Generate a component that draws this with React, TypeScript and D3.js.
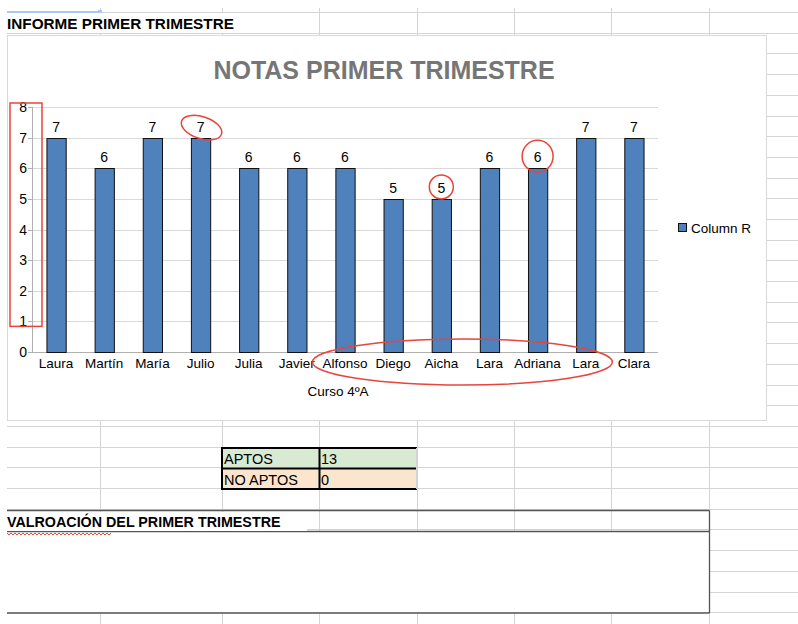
import React from "react";
import * as d3 from "d3";

const categories = ["Laura", "Martín", "María", "Julio", "Julia", "Javier", "Alfonso", "Diego", "Aicha", "Lara", "Adriana", "Lara", "Clara"];
const values = [7, 6, 7, 7, 6, 6, 6, 5, 5, 6, 6, 7, 7];
const yTicks = [0, 1, 2, 3, 4, 5, 6, 7, 8];
const seriesName = "Column R";
const chartTitle = "NOTAS PRIMER TRIMESTRE";
const xTitle = "Curso 4ºA";
const sheetTitle = "INFORME PRIMER TRIMESTRE";
const summaryLabels = ["APTOS", "NO APTOS"];
const summaryValues = [13, 0];
const sectionTitle = "VALROACIÓN DEL PRIMER TRIMESTRE";

const W = 798;
const H = 624;
const FONT = "'Liberation Sans', Arial, sans-serif";

export default function App() {
  const plot = { left: 32, right: 658, top: 107, bottom: 352 };
  const x = d3
    .scaleBand<number>()
    .domain(categories.map((_, i) => i))
    .range([plot.left, plot.right])
    .paddingInner(0.6)
    .paddingOuter(0.3);
  const y = d3.scaleLinear().domain([0, 8]).range([plot.bottom, plot.top]);
  const cx = (i: number) => (x(i) as number) + x.bandwidth() / 2;

  // spreadsheet grid
  const colLines = [100, 222, 319, 416.5, 514, 611, 709];
  const rowH = 20.7;
  const rows: number[] = [];
  for (let r = 12; r < H; r += rowH) rows.push(r);

  const chart = { x: 7, y: 35, w: 759, h: 385 };
  const gridColor = "#d4d4d4";

  const squiggle = (() => {
    let d = "M7,533";
    for (let xx = 7; xx < 110; xx += 4) {
      d += ` L${xx + 2},535 L${xx + 4},533`;
    }
    return d;
  })();

  return (
    <svg width={W} height={H} style={{ position: "absolute", left: 0, top: 0, background: "#fff" }} fontFamily={FONT}>
      <rect x={0} y={0} width={W} height={H} fill="#fff" />
      {/* spreadsheet gridlines */}
      <g stroke={gridColor} strokeWidth={1}>
        {rows.map((r, i) => (
          <line key={"r" + i} x1={7} x2={W} y1={Math.round(r) + 0.5} y2={Math.round(r) + 0.5} />
        ))}
        {colLines.map((c, i) => (
          <line key={"c" + i} x1={Math.round(c) + 0.5} x2={Math.round(c) + 0.5} y1={8} y2={H} />
        ))}
      </g>
      {/* selection highlight */}
      <line x1={7} x2={100} y1={12} y2={12} stroke="#a8c7fa" strokeWidth={2} />
      <rect x={98} y={10} width={4} height={4} fill="#a8c7fa" />
      {/* sheet title */}
      <rect x={7} y={13} width={300} height={20} fill="#fff" />
      <text x={7} y={29} fontSize={15.3} fontWeight="bold" fill="#000">{sheetTitle}</text>

      {/* chart */}
      <rect x={chart.x + 0.5} y={chart.y + 0.5} width={chart.w} height={chart.h} fill="#fff" stroke="#d9d9d9" />
      <text x={384} y={79} textAnchor="middle" fontSize={25} fontWeight="bold" fill="#767676">{chartTitle}</text>

      {/* gridlines */}
      <g>
        {yTicks.map((t) => (
          <line key={t} x1={plot.left} x2={plot.right} y1={Math.round(y(t)) + 0.5} y2={Math.round(y(t)) + 0.5} stroke={t === 0 ? "#b0b0b0" : "#d9d9d9"} />
        ))}
        <line x1={plot.left + 0.5} x2={plot.left + 0.5} y1={plot.top} y2={plot.bottom} stroke="#b0b0b0" />
        {yTicks.map((t) => (
          <line key={"tk" + t} x1={plot.left - 4} x2={plot.left} y1={Math.round(y(t)) + 0.5} y2={Math.round(y(t)) + 0.5} stroke="#b0b0b0" />
        ))}
      </g>
      {/* y tick labels */}
      {yTicks.map((t) => (
        <text key={"yl" + t} x={27} y={y(t) + 5} textAnchor="end" fontSize={14} fill="#000">{t}</text>
      ))}
      {/* bars */}
      {values.map((v, i) => (
        <rect key={"b" + i} x={(x(i) as number) + 0.5} y={Math.round(y(v)) + 0.5} width={x.bandwidth()} height={y(0) - Math.round(y(v))} fill="#4f81bd" stroke="#111" strokeWidth={1} />
      ))}
      {/* data labels */}
      {values.map((v, i) => (
        <text key={"dl" + i} x={cx(i)} y={y(v) - 6} textAnchor="middle" fontSize={14} fill="#000">{v}</text>
      ))}
      {/* category labels */}
      {categories.map((c, i) => (
        <text key={"xl" + i} x={cx(i)} y={plot.bottom + 16} textAnchor="middle" fontSize={13.5} fill="#000">{c}</text>
      ))}
      <text x={338} y={396} textAnchor="middle" fontSize={13.5} fill="#000">{xTitle}</text>
      {/* legend */}
      <rect x={678.5} y={223.5} width={8} height={8} fill="#4f81bd" stroke="#111" />
      <text x={691} y={232.5} fontSize={13.5} fill="#000">{seriesName}</text>

      {/* red annotations */}
      <g fill="none" stroke="#e8453c" strokeWidth={1.5}>
        <rect x={10} y={y(8) - 4} width={32} height={y(1) - y(8) + 9} />
        <ellipse cx={cx(3) + 1} cy={y(7) - 10} rx={21} ry={11} transform={`rotate(18 ${cx(3) + 1} ${y(7) - 10})`} />
        <circle cx={cx(8)} cy={y(5) - 12} r={12} />
        <ellipse cx={cx(10)} cy={y(6) - 12} rx={15.5} ry={16} />
        <ellipse cx={(cx(6) + cx(11)) / 2 - 3} cy={plot.bottom + 10} rx={150} ry={23} />
      </g>

      {/* summary table */}
      {summaryLabels.map((l, i) => {
        const top = 448 + i * 20.5;
        const fill = i === 0 ? "#d9ead3" : "#fce5cd";
        return (
          <g key={"s" + i}>
            <rect x={222} y={top} width={195} height={20.5} fill={fill} />
            <text x={224} y={top + 16} fontSize={14.5} fill="#000">{l}</text>
            <text x={321} y={top + 16} fontSize={14.5} fill="#000">{summaryValues[i]}</text>
          </g>
        );
      })}
      <g stroke="#000" strokeWidth={2}>
        <line x1={221} x2={417} y1={448} y2={448} />
        <line x1={221} x2={417} y1={468.5} y2={468.5} />
        <line x1={221} x2={417} y1={489} y2={489} />
        <line x1={222} x2={222} y1={447} y2={490} />
        <line x1={319.5} x2={319.5} y1={447} y2={490} />
      </g>
      <line x1={416.5} x2={416.5} y1={448} y2={489} stroke={gridColor} />

      {/* valoración block */}
      <rect x={7} y={531.5} width={702} height={81} fill="#fff" />
      <g stroke="#555" strokeWidth={1.3} fill="none">
        <line x1={7} x2={709.5} y1={510.5} y2={510.5} />
        <line x1={7} x2={709.5} y1={531.5} y2={531.5} />
        <line x1={7} x2={709.5} y1={613} y2={613} />
        <line x1={709.5} x2={709.5} y1={510.5} y2={613} />
      </g>
      <rect x={7} y={512} width={300} height={19} fill="#fff" />
      <text x={7} y={527} fontSize={14.3} fontWeight="bold" fill="#000">{sectionTitle}</text>
      <path d={squiggle} fill="none" stroke="#e8453c" strokeWidth={1} />
    </svg>
  );
}
